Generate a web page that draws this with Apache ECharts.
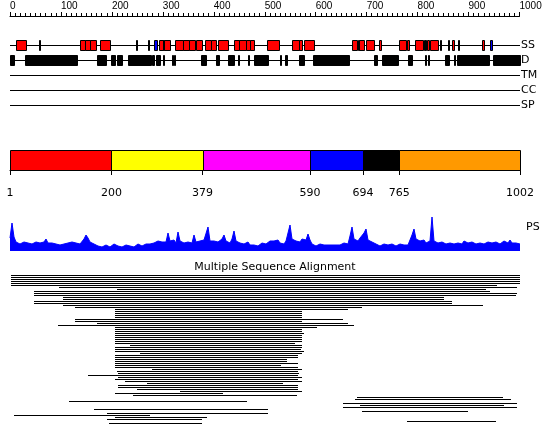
<!DOCTYPE html>
<html><head><meta charset="utf-8">
<script src="https://cdn.jsdelivr.net/npm/echarts@6/dist/echarts.min.js"></script>
<style>html,body{margin:0;padding:0;background:#fff}#c{width:550px;height:445px}</style>
</head><body><div id="c"></div>
<script>
const SEQ_LEN = 1002;
const rulerMax = 1000;
const trackNames = ['SS', 'D', 'TM', 'CC', 'SP'];
// secondary structure: [start, end, type]  H = helix, E = strand, B = other
const ssElements = [
  [13,32,'H'],[57,59,'E'],[139,148,'H'],[148,158,'H'],[158,169,'H'],[178,197,'H'],
  [249,251,'E'],[272,274,'E'],[284,290,'B'],[293,301,'H'],[302,303,'E'],[304,315,'H'],
  [325,340,'H'],[340,353,'H'],[353,364,'H'],[366,377,'H'],[384,395,'H'],[395,405,'H'],
  [409,428,'H'],[441,450,'H'],[450,464,'H'],[464,472,'H'],[472,480,'H'],[506,528,'H'],
  [555,569,'H'],[569,574,'H'],[578,598,'H'],[672,683,'H'],[684,685,'E'],[686,695,'H'],
  [700,715,'H'],[725,729,'H'],[765,778,'H'],[781,785,'H'],[795,812,'H'],[813,814,'E'],
  [816,817,'E'],[819,823,'H'],[826,842,'H'],[845,847,'E'],[860,862,'E'],[869,873,'H'],
  [881,883,'E'],[928,932,'H'],[944,948,'B']
];
// disorder regions: [start, end]
const disorder = [
  [1,9],[30,132],[172,189],[199,208],[211,221],[233,277],[280,283],[288,295],[301,303],
  [318,320],[322,324],[376,385],[405,411],[429,440],[448,450],[468,470],[480,507],
  [531,533],[541,545],[569,578],[596,666],[716,722],[731,762],[782,791],[815,817],
  [821,823],[854,863],[872,874],[878,941],[949,1002]
];
const domainStarts = [1, 200, 379, 590, 694, 765];
const domainEnds = [200, 379, 590, 694, 765, 1002];
const domainColors = ['#FF0000', '#FFFF00', '#FF00FF', '#0000FF', '#000000', '#FF9900'];
const domainTicks = [1, 200, 379, 590, 694, 765, 1002];
// PS profile (one value per ~2px column)
const psValues = [
  13,28,14,9,8,7,
  8,9,7,8,10,7,8,9,7,8,
  7,9,12,8,7,8,9,7,8,6,
  8,7,6,8,7,9,7,8,10,7,
  8,12,16,13,9,9,7,6,
  5,6,4,5,6,5,4,6,7,5,5,6,4,5,6,7,5,6,4,5,7,6,5,6,7,
  8,7,9,8,7,10,8,9,11,9,
  18,10,9,11,8,
  19,10,9,8,10,9,11,8,
  16,9,8,10,9,11,10,
  24,10,9,10,11,9,8,12,
  16,10,9,8,12,
  20,10,9,8,10,7,8,9,
  6,5,6,7,5,6,8,9,7,9,10,
  8,10,9,11,8,9,7,10,12,
  26,12,13,10,11,9,12,10,11,
  17,11,
  7,6,5,6,7,5,6,7,6,5,6,7,6,5,6,7,8,6,7,
  15,24,12,12,10,13,11,
  18,22,11,10,9,11,
  7,6,5,6,7,5,6,5,7,6,5,6,7,5,6,7,6,8,
  16,22,12,12,10,9,11,8,9,10,
  34,10,9,8,10,9,8,7,
  7,8,9,7,6,8,9,7,10,12,8,7,9,8,7,6,8,9,7,8,9,10,8,7,9,8,7,8,10,9,8,11,8,9,8,9,7
];
const psPositions = psValues.map((v, i) => Math.round(1 + i * (SEQ_LEN - 1) / (psValues.length - 1)));
// multiple sequence alignment rows: [row, start, end]
const msaRows = [
  [0,2,1002],[1,2,1002],[2,2,1002],[3,2,1002],[4,2,1002],[5,2,956],[6,97,996],[7,211,935],
  [8,48,943],[9,48,996],[10,48,994],[11,105,852],[12,105,853],[13,48,868],[14,48,868],
  [15,105,930],[16,128,691],[17,207,664],[18,207,575],[19,207,575],[20,207,575],[21,207,575],
  [22,129,655],[23,129,575],[24,171,664],[25,96,676],[26,207,603],[27,207,575],[28,207,575],
  [29,207,579],[30,207,575],[31,207,575],[32,207,575],[33,207,574],[34,207,560],[35,237,575],
  [36,207,574],[37,207,573],[38,207,579],[39,256,575],[40,207,567],[41,207,567],[42,207,544],
  [43,207,544],[44,207,567],[45,207,532],[46,207,566],[47,280,575],[48,211,566],[49,213,568],
  [50,154,566],[51,213,575],[52,207,566],[53,227,574],[54,269,537],[55,213,567],[56,213,567],
  [57,250,567],[58,335,575],[59,207,419],[60,242,565],[61,682,969],[62,678,984],[63,117,466],
  [64,655,996],[65,688,971],[66,655,996],[67,166,508],[68,691,899],[69,192,508],[70,9,275],
  [71,207,388],[72,192,377],[73,780,954],[74,196,377]
];
const MSA_ROWS = 75;

const chart = echarts.init(document.getElementById('c'), null, {renderer: 'canvas'});

function boxShape(x1, x2, cy, fill) {
  return {
    type: 'rect',
    shape: {x: x1 + 0.5, y: cy - 4.5, width: Math.max(x2 - x1, 1), height: 10},
    style: {fill: fill, stroke: '#000', lineWidth: 1}
  };
}

const option = {
  animation: false,
  backgroundColor: '#fff',
  textStyle: {fontFamily: 'DejaVu Sans'},
  title: [
    {text: 'PS', left: 521, top: 217, textStyle: {fontSize: 11, fontWeight: 'normal', color: '#000', fontFamily: 'DejaVu Sans'}},
    {text: 'Multiple Sequence Alignment', left: 'center', top: 257, textStyle: {fontSize: 11, fontWeight: 'normal', color: '#000', fontFamily: 'DejaVu Sans'}}
  ],
  grid: [
    {left: 10, right: 30.5, top: 15, height: 1},
    {left: 10, width: 510, top: 37.5, height: 75},
    {left: 10, width: 510, top: 150, height: 20},
    {left: 10, width: 510, top: 216, height: 35},
    {left: 10, width: 510, top: 274, height: 150}
  ],
  xAxis: [
    {gridIndex: 0, type: 'value', position: 'top', min: 0, max: rulerMax, interval: 100,
     axisLine: {show: true, lineStyle: {color: '#000', width: 1}},
     axisTick: {show: true, length: 4, lineStyle: {color: '#000'}},
     minorTick: {show: true, splitNumber: 10, length: 3, lineStyle: {color: '#000'}},
     axisLabel: {align: 'left', margin: 4, fontSize: 10, color: '#000', fontFamily: 'Liberation Sans',
                 formatter: v => String(v)},
     splitLine: {show: false}},
    {gridIndex: 1, type: 'value', min: 1, max: SEQ_LEN, show: false},
    {gridIndex: 2, type: 'value', min: 1, max: SEQ_LEN, position: 'bottom', offset: 10,
     axisLine: {show: true, lineStyle: {color: '#000', width: 1}},
     axisTick: {show: true, length: 5, customValues: domainTicks, lineStyle: {color: '#000'}},
     axisLabel: {customValues: domainTicks, margin: 8, fontSize: 11, color: '#000', fontFamily: 'DejaVu Sans',
                 formatter: v => String(v)},
     splitLine: {show: false}},
    {gridIndex: 3, type: 'category', data: psPositions, boundaryGap: false, show: false},
    {gridIndex: 4, type: 'value', min: 1, max: SEQ_LEN, show: false}
  ],
  yAxis: [
    {gridIndex: 0, type: 'value', show: false},
    {gridIndex: 1, type: 'category', data: trackNames, inverse: true, position: 'right',
     axisLine: {show: false}, axisTick: {show: false}, splitLine: {show: false},
     axisLabel: {margin: 1, fontSize: 11, color: '#000', fontFamily: 'DejaVu Sans'}},
    {gridIndex: 2, type: 'value', min: 0, max: 1, show: false},
    {gridIndex: 3, type: 'value', min: 0, max: 35, show: false},
    {gridIndex: 4, type: 'value', min: -0.5, max: MSA_ROWS - 0.5, inverse: true, show: false}
  ],
  series: [
    {type: 'custom', xAxisIndex: 1, yAxisIndex: 1, silent: true,
     data: trackNames.map((n, i) => [1, SEQ_LEN, i]),
     encode: {x: [0, 1], y: 2},
     renderItem: function (params, api) {
       const s = api.coord([api.value(0), api.value(2)]);
       const e = api.coord([api.value(1), api.value(2)]);
       return {type: 'rect', shape: {x: Math.round(s[0]), y: Math.floor(s[1]), width: Math.round(e[0]) - Math.round(s[0]), height: 1}, style: {fill: '#000'}};
     }},
    {type: 'custom', xAxisIndex: 1, yAxisIndex: 1, silent: true,
     data: ssElements.map(e => [e[0], e[1], 0]),
     encode: {x: [0, 1], y: 2},
     renderItem: function (params, api) {
       const s = api.coord([api.value(0), api.value(2)]);
       const e = api.coord([api.value(1), api.value(2)]);
       const t = ssElements[params.dataIndex][2];
       const fill = t === 'H' ? '#FF0000' : (t === 'B' ? '#0000FF' : '#000000');
       return boxShape(Math.round(s[0]), Math.round(e[0]), Math.floor(s[1]), fill);
     }},
    {type: 'custom', xAxisIndex: 1, yAxisIndex: 1, silent: true,
     data: disorder.map(e => [e[0], e[1], 1]),
     encode: {x: [0, 1], y: 2},
     renderItem: function (params, api) {
       const s = api.coord([api.value(0), api.value(2)]);
       const e = api.coord([api.value(1), api.value(2)]);
       return boxShape(Math.round(s[0]), Math.round(e[0]), Math.floor(s[1]), '#000000');
     }},
    {type: 'custom', xAxisIndex: 2, yAxisIndex: 2, silent: true,
     data: domainStarts.map((s, i) => [s, domainEnds[i]]),
     encode: {x: [0, 1]},
     renderItem: function (params, api) {
       const s = api.coord([api.value(0), 1]);
       const e = api.coord([api.value(1), 0]);
       const x1 = Math.round(s[0]), x2 = Math.round(e[0]);
       return {type: 'rect', shape: {x: x1 + 0.5, y: Math.round(s[1]) + 0.5, width: x2 - x1, height: Math.round(e[1]) - Math.round(s[1])},
               style: {fill: domainColors[params.dataIndex], stroke: '#000', lineWidth: 1}};
     }},
    {type: 'line', xAxisIndex: 3, yAxisIndex: 3, data: psValues, symbol: 'none', silent: true,
     lineStyle: {color: '#0000FF', width: 1}, areaStyle: {color: '#0000FF', opacity: 1}},
    {type: 'custom', xAxisIndex: 4, yAxisIndex: 4, silent: true,
     data: msaRows.map(r => [r[1], r[2], r[0]]),
     encode: {x: [0, 1], y: 2},
     renderItem: function (params, api) {
       const s = api.coord([api.value(0), api.value(2)]);
       const e = api.coord([api.value(1), api.value(2)]);
       const x1 = Math.round(s[0]);
       return {type: 'rect', shape: {x: x1, y: Math.floor(s[1]), width: Math.round(e[0]) - x1, height: 1}, style: {fill: '#000'}};
     }}
  ]
};
chart.setOption(option);
</script></body></html>
